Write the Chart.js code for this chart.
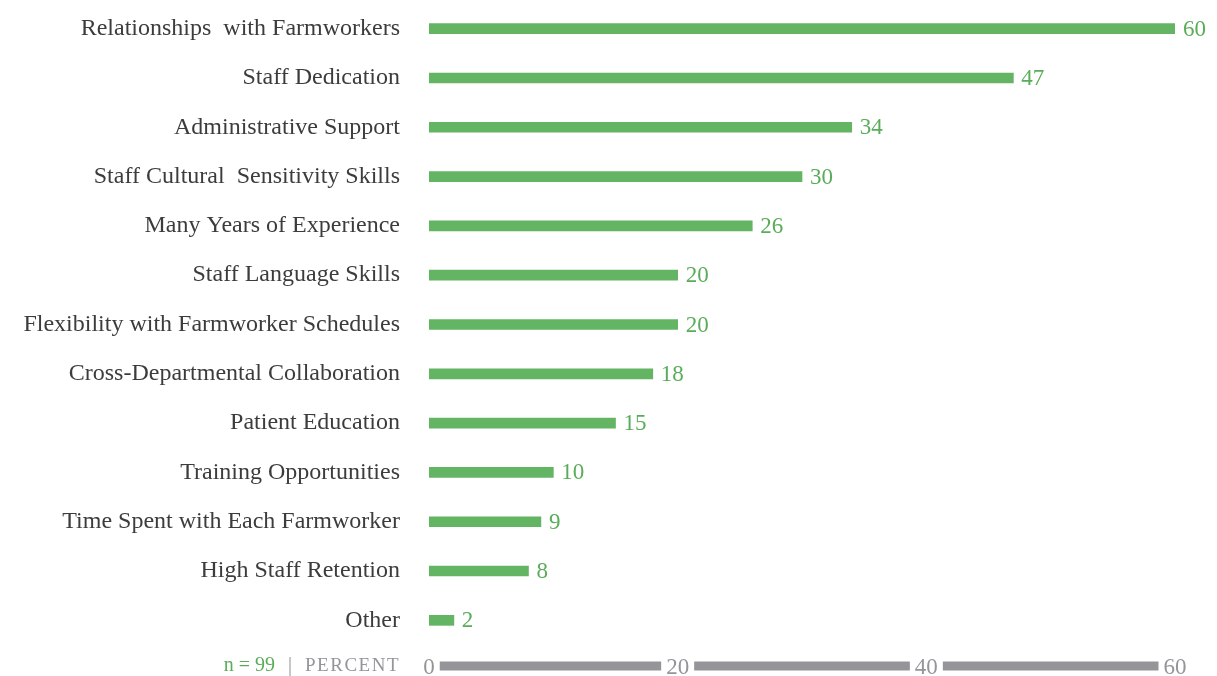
<!DOCTYPE html>
<html>
<head>
<meta charset="utf-8">
<script src="https://cdn.jsdelivr.net/npm/chart.js@4"></script>
<style>
  html, body { margin: 0; padding: 0; background: #fff; }
  #wrap { width: 1217px; height: 676px; position: relative; }
</style>
</head>
<body>
<div id="wrap"><canvas id="chart"></canvas></div>
<script>
const categories = [
  'Relationships  with Farmworkers',
  'Staff Dedication',
  'Administrative Support',
  'Staff Cultural  Sensitivity Skills',
  'Many Years of Experience',
  'Staff Language Skills',
  'Flexibility with Farmworker Schedules',
  'Cross-Departmental Collaboration',
  'Patient Education',
  'Training Opportunities',
  'Time Spent with Each Farmworker',
  'High Staff Retention',
  'Other'
];
const percents = [60, 47, 34, 30, 26, 20, 20, 18, 15, 10, 9, 8, 2];
const xTicks = [0, 20, 40, 60];

const green = '#63b463';
const labelGreen = '#5aac5a';
const grey = '#939598';
const serif = '"Liberation Serif", "DejaVu Serif", serif';

// value labels at the end of each bar
const valueLabels = {
  id: 'valueLabels',
  afterDatasetsDraw(chart) {
    const ctx = chart.ctx;
    const meta = chart.getDatasetMeta(0);
    ctx.save();
    ctx.font = '23px ' + serif;
    ctx.fillStyle = labelGreen;
    ctx.textAlign = 'left';
    ctx.textBaseline = 'middle';
    meta.data.forEach((bar, i) => {
      ctx.fillText(String(percents[i]), bar.x + 8, bar.y + 1);
    });
    ctx.restore();
  }
};

// thick grey axis broken by the tick labels, plus the "n = 99 | PERCENT" note
const percentAxis = {
  id: 'percentAxis',
  afterDraw(chart) {
    const ctx = chart.ctx;
    const x = chart.scales.x;
    const y = 666;
    ctx.save();
    ctx.font = '23px ' + serif;
    const half = xTicks.map(v => ctx.measureText(String(v)).width / 2);
    ctx.fillStyle = grey;
    for (let i = 0; i < xTicks.length - 1; i++) {
      const x0 = x.getPixelForValue(xTicks[i]) + half[i] + 5;
      const x1 = x.getPixelForValue(xTicks[i + 1]) - half[i + 1] - 5;
      ctx.fillRect(x0, y - 4.5, x1 - x0, 9);
    }
    ctx.textBaseline = 'middle';
    ctx.textAlign = 'right';
    ctx.font = '19px ' + serif;
    ctx.letterSpacing = '1.5px';
    ctx.fillText('PERCENT', 400, y);
    const pw = ctx.measureText('PERCENT').width;
    ctx.letterSpacing = '0px';
    ctx.font = '20px ' + serif;
    ctx.fillText('|', 400 - pw - 13, y);
    ctx.fillStyle = labelGreen;
    ctx.fillText('n = 99', 400 - pw - 30, y);
    ctx.restore();
  }
};

new Chart(document.getElementById('chart'), {
  type: 'bar',
  data: {
    labels: categories,
    datasets: [{
      data: percents,
      backgroundColor: green,
      borderWidth: 0,
      barThickness: 10
    }]
  },
  options: {
    indexAxis: 'y',
    responsive: true,
    maintainAspectRatio: false,
    animation: false,
    layout: { padding: { top: 4, right: 42, left: 0, bottom: 0 } },
    plugins: {
      legend: { display: false },
      tooltip: { enabled: false }
    },
    scales: {
      x: {
        min: 0,
        max: 60,
        afterBuildTicks: s => { s.ticks = xTicks.map(v => ({ value: v })); },
        afterFit: s => { s.height = 31; },
        grid: { display: false, drawTicks: false },
        border: { display: false },
        ticks: {
          color: grey,
          padding: 9,
          font: { family: serif, size: 23 }
        }
      },
      y: {
        afterFit: s => {
          s.width = 429;
          s.paddingTop = 0;
          s.paddingBottom = 0;
        },
        grid: { display: false, drawTicks: false },
        border: { display: false },
        ticks: {
          color: '#3c3c3c',
          padding: 29,
          font: { family: serif, size: 24 }
        }
      }
    }
  },
  plugins: [valueLabels, percentAxis]
});
</script>
</body>
</html>
